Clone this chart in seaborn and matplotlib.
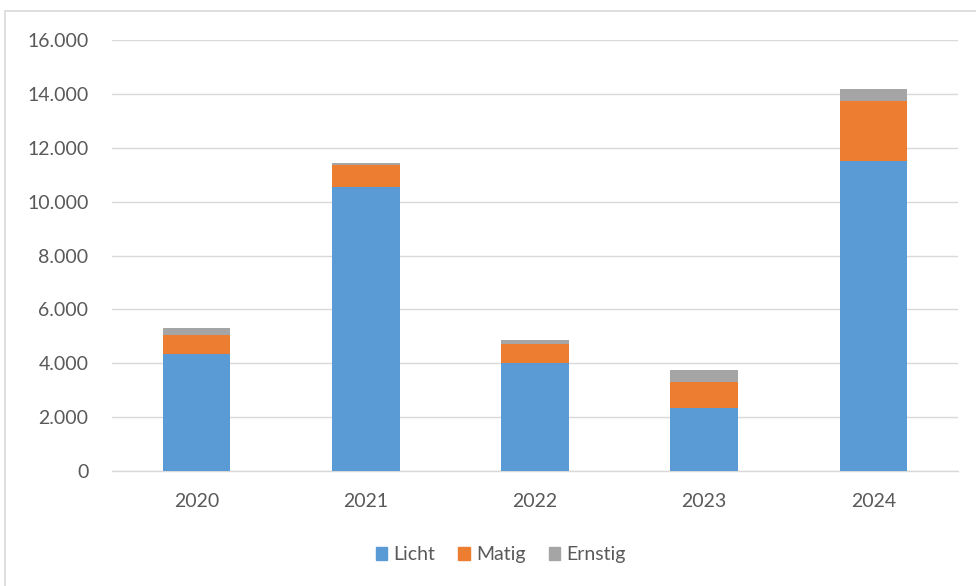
import pandas as pd
import numpy as np
import matplotlib
matplotlib.use("Agg")
import matplotlib.pyplot as plt
import matplotlib.patches as mpatches
from matplotlib.ticker import FuncFormatter
import seaborn as sns

years = ["2020", "2021", "2022", "2023", "2024"]
licht = [4330, 10530, 4010, 2350, 11520]
matig = [710, 840, 720, 940, 2200]
ernstig = [270, 50, 120, 450, 450]

colors = {"Licht": "#5B9BD5", "Matig": "#ED7D31", "Ernstig": "#A5A5A5"}

df = pd.DataFrame({"jaar": years, "Licht": licht, "Matig": matig, "Ernstig": ernstig})
df["cum_matig"] = df["Licht"] + df["Matig"]
df["cum_ernstig"] = df["cum_matig"] + df["Ernstig"]

sns.set_style("white")
plt.rcParams["font.family"] = ["Lato", "DejaVu Sans"]

fig = plt.figure(figsize=(9.76, 5.86), dpi=100)
ax = fig.add_axes([0.1148, 0.1962, 0.8668, 0.7355])

# stacked bars: draw cumulative totals from the top down
sns.barplot(data=df, x="jaar", y="cum_ernstig", color=colors["Ernstig"], width=0.4,
            saturation=1, ax=ax, linewidth=0, zorder=3)
sns.barplot(data=df, x="jaar", y="cum_matig", color=colors["Matig"], width=0.4,
            saturation=1, ax=ax, linewidth=0, zorder=3)
sns.barplot(data=df, x="jaar", y="Licht", color=colors["Licht"], width=0.4,
            saturation=1, ax=ax, linewidth=0, zorder=3)

ax.set_ylim(0, 16000)
ax.set_xlim(-0.5, 4.5)
ax.set_yticks(np.arange(0, 16001, 2000))
ax.yaxis.set_major_formatter(FuncFormatter(lambda v, p: f"{int(v):,}".replace(",", ".")))
ax.grid(axis="y", color="#D9D9D9", linewidth=1, zorder=0)
ax.set_xlabel("")
ax.set_ylabel("")
for s in ["top", "right", "left"]:
    ax.spines[s].set_visible(False)
ax.spines["bottom"].set_color("#D9D9D9")
ax.spines["bottom"].set_linewidth(1)
ax.tick_params(axis="both", length=0, labelsize=14, labelcolor="#595959")
ax.tick_params(axis="y", pad=17)
ax.tick_params(axis="x", pad=16)

handles = [mpatches.Patch(color=colors[k], label=k) for k in ["Licht", "Matig", "Ernstig"]]
fig.legend(handles=handles, loc="center", bbox_to_anchor=(0.513, 0.053), ncol=3,
           frameon=False, fontsize=14, labelcolor="#595959",
           handlelength=0.6, handleheight=0.6, handletextpad=0.3, columnspacing=1.2)

# chart area border
fig.patches.append(mpatches.Rectangle((5 / 976, -0.1), 1.1, (586 - 11) / 586 + 0.1,
                                      transform=fig.transFigure, fill=False,
                                      edgecolor="#D9D9D9", linewidth=1.2))

fig.savefig("out.png", dpi=100)
